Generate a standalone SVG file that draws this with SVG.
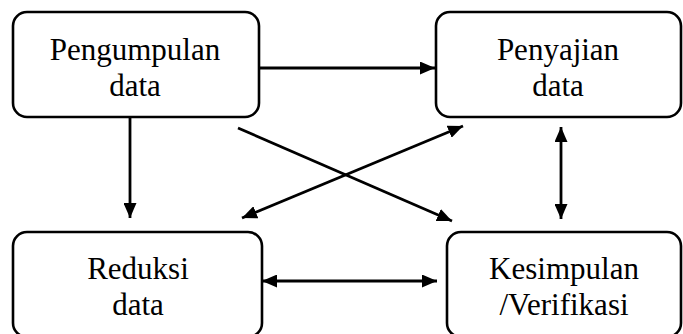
<svg xmlns="http://www.w3.org/2000/svg" width="683" height="334" viewBox="0 0 683 334">
<defs>
<marker id="ah" viewBox="0 0 15 13" refX="15" refY="6.5" markerWidth="15" markerHeight="13" markerUnits="userSpaceOnUse" orient="auto-start-reverse">
<path d="M0,0 L15,6.5 L0,13 Z" fill="#000"/>
</marker>
<style>
.box{fill:#fff;stroke:#000;stroke-width:2.6}
.lbl{font-family:"Liberation Serif","Times New Roman",serif;font-size:31px;fill:#000;text-anchor:middle}
.c{stroke:#000;stroke-width:2.8;fill:none}
</style>
</defs>
<rect width="683" height="334" fill="#fff"/>
<g id="connectors">
<line class="c" x1="259" y1="68" x2="435" y2="68" marker-end="url(#ah)"/>
<line class="c" x1="130" y1="118" x2="130" y2="218" marker-end="url(#ah)"/>
<line class="c" x1="238" y1="128" x2="452" y2="221" marker-end="url(#ah)"/>
<line class="c" x1="242" y1="218" x2="463" y2="126" marker-start="url(#ah)" marker-end="url(#ah)"/>
<line class="c" x1="561" y1="127" x2="561" y2="219" marker-start="url(#ah)" marker-end="url(#ah)"/>
<line class="c" x1="262" y1="281" x2="437" y2="281" marker-start="url(#ah)" marker-end="url(#ah)"/>
</g>
<g id="pengumpulan">
<rect class="box" x="13" y="12" width="246" height="105" rx="14"/>
<text class="lbl" x="135" y="60">Pengumpulan</text>
<text class="lbl" x="135" y="96">data</text>
</g>
<g id="penyajian">
<rect class="box" x="436" y="12" width="245" height="105" rx="14"/>
<text class="lbl" x="558" y="60">Penyajian</text>
<text class="lbl" x="558" y="96">data</text>
</g>
<g id="reduksi">
<rect class="box" x="13" y="232" width="249" height="105" rx="14"/>
<text class="lbl" x="138" y="279">Reduksi</text>
<text class="lbl" x="138" y="315">data</text>
</g>
<g id="kesimpulan">
<rect class="box" x="447" y="232" width="234" height="105" rx="14"/>
<text class="lbl" x="564" y="279">Kesimpulan</text>
<text class="lbl" x="564" y="315">/Verifikasi</text>
</g>
</svg>
